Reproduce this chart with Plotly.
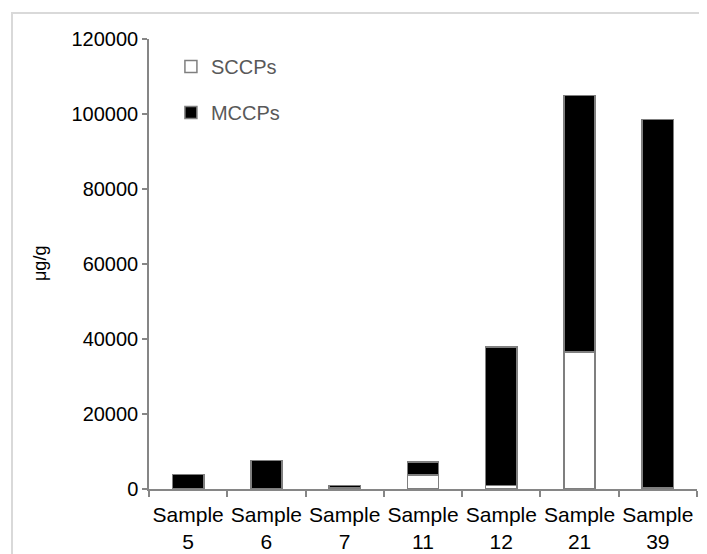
import plotly.graph_objects as go

categories = ["Sample<br>5", "Sample<br>6", "Sample<br>7", "Sample<br>11",
              "Sample<br>12", "Sample<br>21", "Sample<br>39"]
sccp = [200, 100, 300, 3800, 1000, 36500, 300]
mccp = [3700, 7500, 600, 3400, 36900, 68500, 98300]
y_ticks = [0, 20000, 40000, 60000, 80000, 100000, 120000]

FONT = "Liberation Sans, Arial, sans-serif"
EDGE = "#7f7f7f"
L = 141
PW = 699 - L - 10

fig = go.Figure()
fig.add_trace(go.Bar(x=categories, y=sccp, name="SCCPs", legendgroup="a",
                     marker=dict(color="white", line=dict(color=EDGE, width=1.5))))
fig.add_trace(go.Bar(x=categories, y=mccp, name="MCCPs", legendgroup="b",
                     marker=dict(color="black", line=dict(color=EDGE, width=1.5))))

fig.update_layout(
    width=699, height=546,
    margin=dict(l=L, r=10, t=31, b=65, autoexpand=False),
    barmode="stack", bargap=0.6,
    plot_bgcolor="white", paper_bgcolor="white",
    font=dict(family=FONT, size=20, color="black"),
    showlegend=True,
    legend=dict(x=0.04, y=0.982, xanchor="left", yanchor="top",
                traceorder="grouped", tracegroupgap=17,
                font=dict(size=20, color="#595959"),
                bgcolor="rgba(0,0,0,0)"),
    xaxis=dict(type="category", showline=True, linecolor="#868686", linewidth=1.5,
               ticks="outside", tickson="boundaries", ticklen=6, tickcolor="#868686",
               tickwidth=1.5, tickfont=dict(size=21, color="black"), showgrid=False,
               automargin=False, ticklabelstandoff=6, tickangle=0),
    yaxis=dict(range=[0, 120000], tickvals=y_ticks, showline=True, linecolor="#868686",
               linewidth=1.5, ticks="outside", ticklen=5, tickcolor="#868686",
               tickwidth=1.5, showgrid=False, zeroline=False, tickformat="d",
               tickfont=dict(size=20, color="black"), automargin=False),
    annotations=[dict(text="μg/g", xref="paper", yref="paper",
                      x=(32 - L) / PW, y=0.5, xanchor="center", yanchor="middle",
                      textangle=-90, showarrow=False,
                      font=dict(size=18, color="black"))],
    shapes=[dict(type="rect", xref="paper", yref="paper",
                 x0=(4 - L) / PW, x1=1.2, y0=-0.3, y1=1 + 26 / 450,
                 line=dict(color="#d9d9d9", width=2), fillcolor="rgba(0,0,0,0)",
                 layer="below")],
)

fig.write_html("out.html")
